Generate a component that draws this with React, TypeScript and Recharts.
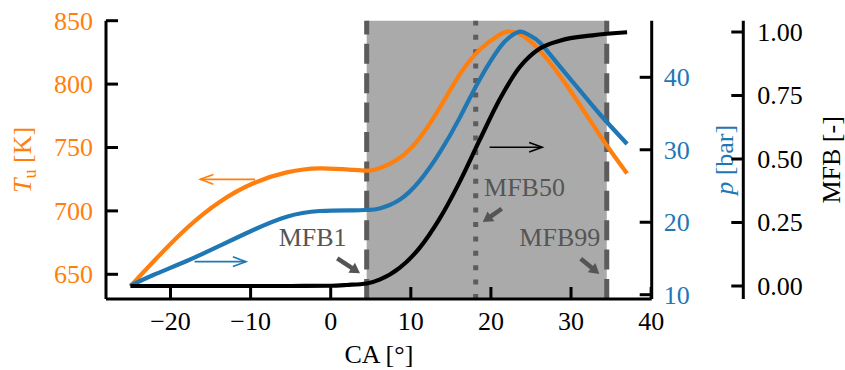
import React from 'react';
import { ComposedChart, Line, XAxis, YAxis, ReferenceArea, ReferenceLine, ReferenceDot } from 'recharts';

const FONT = '"Liberation Serif", "Times New Roman", serif';
const FS = 26;
const ORANGE = '#ff7f0e';
const BLUE = '#1f77b4';
const GRAY = '#555555';
const LINEGRAY = '#5c5c5c';

// ---- data ----
const caTu = [-25, -22.15, -17.98, -13.82, -9.66, -5.49, -1.34, 2.82, 4.69, 6.1, 8.6, 11.1, 13.6, 16.1, 18.6, 21.1, 22.4, 24.4, 26.9, 29.4, 31.9, 34.4, 37];
const tuValues = [640.5, 659.9, 686.3, 707.3, 721.8, 730.4, 733.6, 732.3, 731.7, 733.6, 741.7, 757.5, 781.2, 807.4, 827.1, 839, 841.5, 836.4, 820.6, 799.5, 775.9, 752.2, 729.5];

const caP = [-25, -22.15, -17.98, -13.82, -9.66, -5.49, -1.34, 2.82, 4.69, 6.1, 8.6, 11.1, 13.6, 16.1, 18.6, 21.1, 22.3, 23.6, 24.8, 26.1, 28.6, 31.1, 33.6, 37];
const pValues = [11.24, 12.72, 14.65, 16.77, 18.93, 20.76, 21.55, 21.65, 21.7, 21.9, 23.1, 25.7, 29.6, 34.4, 39.7, 44.1, 45.5, 46.3, 45.8, 44.8, 41.5, 38.2, 34.9, 30.8];

const caMfb = [-25, -15, -5, 0, 2, 4.49, 6.1, 8.6, 11.1, 13.6, 16.1, 18.6, 21.1, 23.6, 26.1, 28.6, 32.7, 37];
const mfbValues = [0, 0, 0, 0.001, 0.004, 0.01, 0.025, 0.071, 0.15, 0.265, 0.41, 0.575, 0.735, 0.862, 0.935, 0.966, 0.987, 0.999];

const caTicks = [-20, -10, 0, 10, 20, 30, 40];
const tuTicks = [650, 700, 750, 800, 850];
const pTicks = [10, 20, 30, 40];
const mfbTicks = [0, 0.25, 0.5, 0.75, 1];

const mfbLabels = ['MFB1', 'MFB50', 'MFB99'];
const mfbAngles = [4.49, 18.1, 34.46];

// ---- annotation placement (data coordinates) ----
const eventTextPos = [[-6.49, 672.3], [19.14, 711.5], [23.55, 672.1]];
const eventArrowPos = [
  [[0.82, 662.6], [3.66, 650.8]],
  [[21.35, 701.7], [18.98, 691.2]],
  [[31.21, 662.3], [33.53, 650.2]],
];
const tuArrow = [[-9.43, 724.9], [-16.27, 724.9]];
const pArrow = [[-16.99, 14.56], [-10.59, 14.56]];
const mfbArrow = [[19.84, 0.546], [26.4, 0.546]];

const zip = (xs: number[], ys: number[]) => xs.map((ca, i) => ({ ca, v: ys[i] }));
const tuData = zip(caTu, tuValues);
const pData = zip(caP, pValues);
const mfbData = zip(caMfb, mfbValues);

const fmtCA = (v: number) => (v < 0 ? '\u2212' + Math.abs(v) : String(v));

const textStyle = { fontFamily: FONT, fontSize: FS };

const leftTick = (props: any) => {
  const { x, y, payload } = props;
  const ax = x + 13;
  return (
    <g>
      <line x1={ax} y1={y} x2={ax + 12} y2={y} stroke="#000" strokeWidth={3} />
      <text x={x} y={y} dy="0.34em" textAnchor="end" fill={ORANGE} style={textStyle}>{payload.value}</text>
    </g>
  );
};
const rightTick = (color: string, margin: number, fmt: (v: number) => string) => (props: any) => {
  const { x, y, payload } = props;
  const ax = x - margin;
  return (
    <g>
      <line x1={ax} y1={y} x2={ax - 12} y2={y} stroke="#000" strokeWidth={3} />
      <text x={x} y={y} dy="0.34em" textAnchor="start" fill={color} style={textStyle}>{fmt(payload.value)}</text>
    </g>
  );
};
const bottomTick = (props: any) => {
  const { x, y, payload } = props;
  const ay = y - 22;
  return (
    <g>
      <line x1={x} y1={ay} x2={x} y2={ay - 12} stroke="#000" strokeWidth={3} />
      <text x={x} y={y} dy="0.34em" textAnchor="middle" fill="#000" style={textStyle}>{fmtCA(payload.value)}</text>
    </g>
  );
};

const yLabel = (content: React.ReactNode, color: string, xOffset: number) => (props: any) => {
  const vb = props.viewBox || {};
  const cx = vb.x + xOffset;
  const cy = vb.y + vb.height / 2;
  return (
    <text x={cx} y={cy} transform={`rotate(-90 ${cx} ${cy})`} textAnchor="middle" dy="0.34em" fill={color} style={textStyle}>
      {content}
    </text>
  );
};
const xLabel = (props: any) => {
  const vb = props.viewBox || {};
  const cx = vb.x + vb.width / 2;
  const cy = vb.y + 55.5;
  return (
    <text x={cx} y={cy} textAnchor="middle" dy="0.34em" fill="#000" style={textStyle}>CA [°]</text>
  );
};

const openArrow = (color: string) => (props: any) => {
  const { x1, y1, x2, y2 } = props;
  const dx = x2 - x1, dy = y2 - y1;
  const L = Math.hypot(dx, dy) || 1;
  const ux = dx / L, uy = dy / L;
  const hl = 13, hw = 4.8;
  const bx = x2 - ux * hl, by = y2 - uy * hl;
  return (
    <g>
      <line x1={x1} y1={y1} x2={x2} y2={y2} stroke={color} strokeWidth={1.6} />
      <polyline
        points={`${bx - uy * hw},${by + ux * hw} ${x2},${y2} ${bx + uy * hw},${by - ux * hw}`}
        fill="none" stroke={color} strokeWidth={1.6} strokeLinejoin="miter"
      />
    </g>
  );
};
const solidArrow = (props: any) => {
  const { x1, y1, x2, y2 } = props;
  const dx = x2 - x1, dy = y2 - y1;
  const L = Math.hypot(dx, dy) || 1;
  const ux = dx / L, uy = dy / L;
  const hl = 10, hw = 6;
  const bx = x2 - ux * hl, by = y2 - uy * hl;
  return (
    <g>
      <line x1={x1} y1={y1} x2={bx + ux * 1} y2={by + uy * 1} stroke={GRAY} strokeWidth={4.5} />
      <polygon points={`${x2},${y2} ${bx - uy * hw},${by + ux * hw} ${bx + uy * hw},${by - ux * hw}`} fill={GRAY} />
    </g>
  );
};
const textShape = (label: string) => (props: any) => (
  <text x={props.cx} y={props.cy} textAnchor="start" fill={GRAY} style={textStyle}>{label}</text>
);

export default function App() {
  return (
    <div style={{ position: 'absolute', left: 0, top: 0, background: '#fff' }}>
      <ComposedChart width={845} height={370} margin={{ top: 20.7, right: 0, bottom: 0, left: 0 }}>
        <XAxis
          dataKey="ca" type="number" domain={[-28.05, 40.07]} allowDataOverflow ticks={caTicks} interval={0}
          height={71} tickSize={0} tickMargin={22} tickLine={false}
          axisLine={{ stroke: '#000', strokeWidth: 3 }} tick={bottomTick} label={{ content: xLabel }}
        />
        <XAxis
          xAxisId="top" orientation="top" dataKey="ca" type="number" domain={[-28.05, 40.07]} allowDataOverflow
          height={0} tick={false} tickLine={false} axisLine={{ stroke: '#000', strokeWidth: 3 }}
        />
        <YAxis
          yAxisId="T" orientation="left" type="number" domain={[630.52, 850]} allowDataOverflow ticks={tuTicks} interval={0}
          width={106} tickSize={0} tickMargin={13} tickLine={false}
          axisLine={{ stroke: '#000', strokeWidth: 3 }} tick={leftTick}
          label={{
            content: yLabel(
              <>
                <tspan fontStyle="italic">T</tspan>
                <tspan fontSize={18} dy={5}>u</tspan>
                <tspan dy={-5}> [K]</tspan>
              </>,
              ORANGE, 22
            ),
          }}
        />
        <YAxis
          yAxisId="a_p" orientation="right" type="number" domain={[9.407, 47.81]} allowDataOverflow ticks={pTicks} interval={0}
          width={91.6} tickSize={0} tickMargin={12} tickLine={false}
          axisLine={{ stroke: '#000', strokeWidth: 3 }} tick={rightTick(BLUE, 12, (v) => String(v))}
          label={{
            content: yLabel(
              <>
                <tspan fontStyle="italic">p</tspan>
                <tspan> [bar]</tspan>
              </>,
              BLUE, 72
            ),
          }}
        />
        <YAxis
          yAxisId="z_mfb" orientation="right" type="number" domain={[-0.0512, 1.0445]} allowDataOverflow ticks={mfbTicks} interval={0}
          width={101.7} tickSize={0} tickMargin={14} tickLine={false}
          axisLine={{ stroke: '#000', strokeWidth: 3 }} tick={rightTick('#000', 14, (v) => v.toFixed(2))}
          label={{ content: yLabel('MFB [-]', '#000', 88) }}
        />

        <ReferenceArea yAxisId="T" x1={mfbAngles[0]} x2={mfbAngles[2]} fill="#aaaaaa" fillOpacity={1} stroke="none" zIndex={50} />
        <ReferenceLine yAxisId="T" x={mfbAngles[0]} stroke={LINEGRAY} strokeWidth={5} strokeDasharray="20 9.4" zIndex={60} />
        <ReferenceLine yAxisId="T" x={mfbAngles[1]} stroke={LINEGRAY} strokeWidth={5} strokeDasharray="5 9.4" zIndex={60} />
        <ReferenceLine yAxisId="T" x={mfbAngles[2]} stroke={LINEGRAY} strokeWidth={5} strokeDasharray="20 9.4" zIndex={60} />

        <Line yAxisId="T" data={tuData} dataKey="v" type="natural" stroke={ORANGE} strokeWidth={4.2} dot={false} activeDot={false} isAnimationActive={false} zIndex={400} />
        <Line yAxisId="a_p" data={pData} dataKey="v" type="natural" stroke={BLUE} strokeWidth={4.2} dot={false} activeDot={false} isAnimationActive={false} zIndex={401} />
        <Line yAxisId="z_mfb" data={mfbData} dataKey="v" type="monotone" stroke="#000" strokeWidth={4.2} dot={false} activeDot={false} isAnimationActive={false} zIndex={402} />

        <ReferenceLine yAxisId="T" ifOverflow="visible" segment={[{ x: tuArrow[0][0], y: tuArrow[0][1] }, { x: tuArrow[1][0], y: tuArrow[1][1] }]} shape={openArrow(ORANGE)} zIndex={1500} />
        <ReferenceLine yAxisId="a_p" ifOverflow="visible" segment={[{ x: pArrow[0][0], y: pArrow[0][1] }, { x: pArrow[1][0], y: pArrow[1][1] }]} shape={openArrow(BLUE)} zIndex={1500} />
        <ReferenceLine yAxisId="z_mfb" ifOverflow="visible" segment={[{ x: mfbArrow[0][0], y: mfbArrow[0][1] }, { x: mfbArrow[1][0], y: mfbArrow[1][1] }]} shape={openArrow('#000')} zIndex={1500} />

        {mfbLabels.map((lab, i) => (
          <ReferenceLine
            key={'a' + lab} yAxisId="T" ifOverflow="visible"
            segment={[{ x: eventArrowPos[i][0][0], y: eventArrowPos[i][0][1] }, { x: eventArrowPos[i][1][0], y: eventArrowPos[i][1][1] }]}
            shape={solidArrow} zIndex={1500}
          />
        ))}
        {mfbLabels.map((lab, i) => (
          <ReferenceDot
            key={'t' + lab} yAxisId="T" ifOverflow="visible"
            x={eventTextPos[i][0]} y={eventTextPos[i][1]} r={0}
            shape={textShape(lab)} zIndex={1600}
          />
        ))}
      </ComposedChart>
    </div>
  );
}
